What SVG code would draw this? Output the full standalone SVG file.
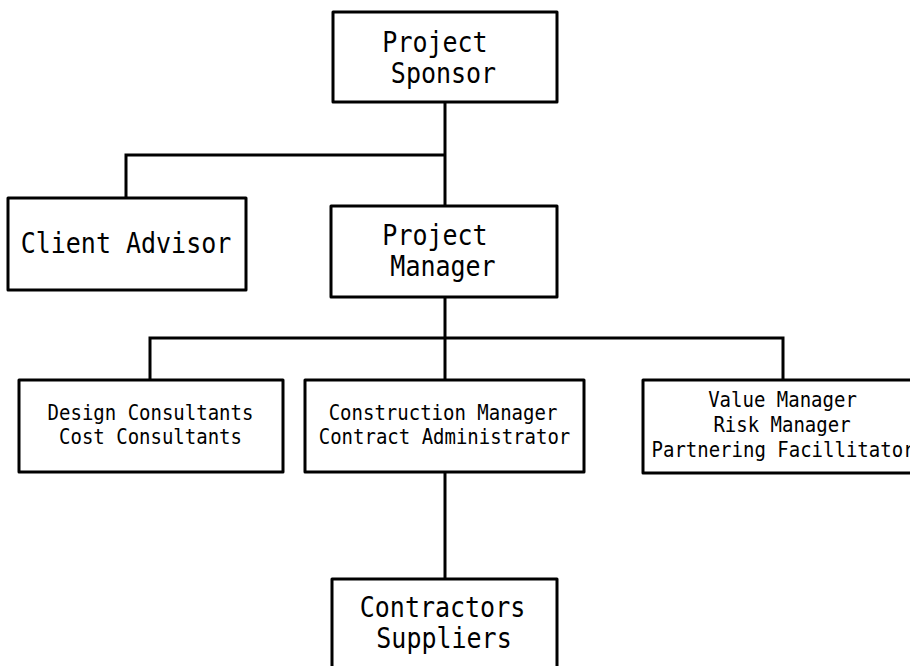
<svg xmlns="http://www.w3.org/2000/svg" width="910" height="666" viewBox="0 0 910 666">
<style>
.box{fill:#fff;stroke:#000;stroke-width:3;stroke-linejoin:round}
.con{fill:none;stroke:#000;stroke-width:3}
text{font-family:"DejaVu Sans Mono","Liberation Mono",monospace;fill:#000;text-anchor:middle}
.lg{font-size:25px}
.sm{font-size:19px}
</style>
<rect width="910" height="666" fill="#fff"/>
<g id="connectors">
<path class="con" d="M445 102 V206"/>
<path class="con" d="M126 198 V155 H445"/>
<path class="con" d="M445 297 V380"/>
<path class="con" d="M150 380 V338 H783 V380"/>
<path class="con" d="M445 472 V579"/>
</g>
<g id="sponsor">
<rect class="box" x="333" y="12" width="224" height="90"/>
<text class="lg" transform="translate(435 52) scale(1 1.13)">Project</text>
<text class="lg" transform="translate(443.5 83) scale(1 1.13)">Sponsor</text>
</g>
<g id="client">
<rect class="box" x="8" y="198" width="238" height="92"/>
<text class="lg" transform="translate(126 253) scale(1 1.13)">Client Advisor</text>
</g>
<g id="pm">
<rect class="box" x="331" y="206" width="226" height="91"/>
<text class="lg" transform="translate(435 245) scale(1 1.13)">Project</text>
<text class="lg" transform="translate(443 276) scale(1 1.13)">Manager</text>
</g>
<g id="design">
<rect class="box" x="19" y="380" width="264" height="92"/>
<text class="sm" transform="translate(150.5 420) scale(1 1.08)">Design Consultants</text>
<text class="sm" transform="translate(150.5 444) scale(1 1.08)">Cost Consultants</text>
</g>
<g id="construction">
<rect class="box" x="305" y="380" width="279" height="92"/>
<text class="sm" transform="translate(443 420) scale(1 1.08)">Construction Manager</text>
<text class="sm" transform="translate(444.5 444) scale(1 1.08)">Contract Administrator</text>
</g>
<g id="value">
<rect class="box" x="643" y="380" width="280" height="93"/>
<text class="sm" transform="translate(782.5 407) scale(1 1.08)">Value Manager</text>
<text class="sm" transform="translate(782 432) scale(1 1.08)">Risk Manager</text>
<text class="sm" transform="translate(783 457) scale(1 1.08)">Partnering Facillitator</text>
</g>
<g id="contractors">
<rect class="box" x="332" y="579" width="225" height="100"/>
<text class="lg" transform="translate(442.5 617) scale(1 1.13)">Contractors</text>
<text class="lg" transform="translate(444 648) scale(1 1.13)">Suppliers</text>
</g>
</svg>
